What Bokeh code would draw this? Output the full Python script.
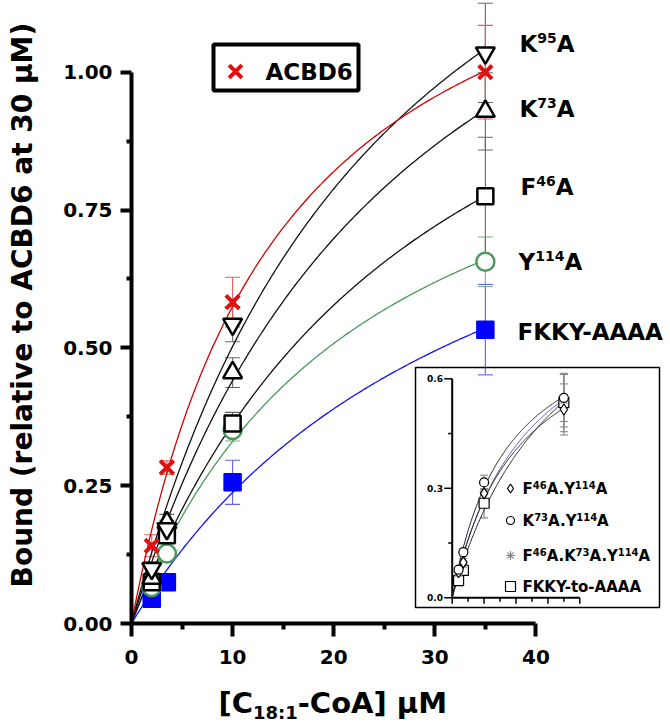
import numpy as np
from math import pi
from bokeh.plotting import figure
from bokeh.layouts import column, row
from bokeh.models import (ColumnDataSource, Whisker, TeeHead, Label, FixedTicker, Range1d)
from bokeh.embed import file_html
from bokeh.resources import INLINE

# ---------------- data ----------------
conc = [2, 3.5, 10, 35]

acbd6 = [0.141, 0.283, 0.583, 1.000]
acbd6_err = [0.020, 0.012, 0.045, 0.085]
k95a = [0.100, 0.172, 0.543, 1.035]
k95a_err = [0.012, 0.015, 0.032, 0.090]
k73a = [0.082, 0.183, 0.455, 0.929]
k73a_err = [0.010, 0.015, 0.027, 0.070]
f46a = [0.075, 0.160, 0.363, 0.775]
f46a_err = [0.010, 0.010, 0.020, 0.107]
y114a = [0.066, 0.127, 0.351, 0.656]
y114a_err = [0.010, 0.010, 0.020, 0.045]
fkky = [0.045, 0.075, 0.256, 0.533]
fkky_err = [0.006, 0.010, 0.040, 0.082]

# inset
f46_y114 = [0.070, 0.097, 0.286, 0.516]
f46_y114_err = [0.006, 0.010, 0.030, 0.070]
k73_y114 = [0.077, 0.125, 0.316, 0.548]
k73_y114_err = [0.006, 0.010, 0.020, 0.065]
f46_k73_y114 = [0.068, 0.090, 0.290, 0.540]
f46_k73_y114_err = [0.006, 0.010, 0.030, 0.072]
fkky_aaaa = [0.047, 0.075, 0.259, 0.535]
fkky_aaaa_err = [0.006, 0.010, 0.040, 0.080]

x_ticks = [0, 10, 20, 30, 40]
x_minor = [5, 15, 25, 35]
y_ticks = [0.0, 0.25, 0.5, 0.75, 1.0]
y_tick_labels = ["0.00", "0.25", "0.50", "0.75", "1.00"]
y_minor = [0.125, 0.375, 0.625, 0.875]
inset_y_ticks = [0.0, 0.3, 0.6]
inset_y_labels = ["0.0", "0.3", "0.6"]
inset_y_minor = [0.15, 0.45]
inset_x_ticks = [0, 5, 10, 15, 20, 25, 30, 35, 40]

# ---------------- layout geometry (page pixels) ----------------
YT_W = 40                     # width of the y-title strip
X0_PX, XS = 131.0, 10.11      # main x=0 pixel, px per unit
Y0_PX, YS = 623.0, 551.3      # main y=0 pixel, px per unit
FRAME_L, FRAME_R, FRAME_T = 131, 668, 0
FRAME_W = FRAME_R - FRAME_L
FRAME_H = int(Y0_PX - FRAME_T)
MAIN_H = 675
TOTAL_W = 668
XT_H = 47
IX0_PX, IXS = 451.7, 3.19     # inset
IY0_PX, IYS = 597.3, 365.0

def px2x(px):
    return (px - X0_PX) / XS

def px2y(py):
    return (Y0_PX - py) / YS

FONT = "DejaVu Sans"
W = {' ': 348, '(': 457, ')': 457, '-': 415, '.': 380, ':': 400, '[': 457, ']': 457,
     'A': 774, 'B': 762, 'C': 734, 'D': 830, 'F': 683, 'K': 775, 'M': 995, 'Y': 724,
     'a': 675, 'o': 687, 't': 478, 'µ': 721}
for d in "0123456789":
    W[d] = 696

def tw(s, size):
    return sum(W.get(c, 650) for c in s) * size / 1000.0


def rich(fig, x, y, parts, color="black"):
    """Place a run of text pieces (text, size, raise) starting at data (x, y) baseline."""
    off = 0.0
    for text, size, dy in parts:
        fig.add_layout(Label(x=x, y=y, x_offset=off, y_offset=dy + 0.34 * size, text=text,
                             text_font=FONT, text_font_style="bold",
                             text_font_size=f"{size}px", text_color=color,
                             text_align="left", text_baseline="alphabetic"))
        off += tw(text, size)


p = figure(frame_width=FRAME_W, frame_height=FRAME_H,
           x_range=Range1d(0, FRAME_W / XS), y_range=Range1d(0, FRAME_H / YS),
           output_backend="svg", toolbar_location=None,
           min_border_left=int(FRAME_L - YT_W), min_border_right=0,
           min_border_top=0, min_border_bottom=MAIN_H - FRAME_H)
p.title.visible = False
p.grid.visible = False
p.outline_line_color = None
p.background_fill_color = "white"
p.border_fill_color = "white"

p.extra_x_ranges = {"ix": Range1d((FRAME_L - IX0_PX) / IXS, (FRAME_R - IX0_PX) / IXS)}
p.extra_y_ranges = {"iy": Range1d(-(Y0_PX - IY0_PX) / IYS, (IY0_PX - FRAME_T) / IYS)}

# axes
xa = p.xaxis[0]
ya = p.yaxis[0]
xa.ticker = FixedTicker(ticks=x_ticks, minor_ticks=x_minor)
ya.ticker = FixedTicker(ticks=y_ticks, minor_ticks=y_minor)
ya.major_label_overrides = {t: l for t, l in zip(y_ticks, y_tick_labels)}
xa.bounds = (x_ticks[0], x_ticks[-1])
ya.bounds = (y_ticks[0], y_ticks[-1])
for ax in (xa, ya):
    ax.axis_line_width = 4
    ax.axis_line_color = "black"
    ax.major_tick_line_width = 4
    ax.minor_tick_line_width = 4
    ax.major_tick_line_color = "black"
    ax.minor_tick_line_color = "black"
    ax.major_tick_in = 0
    ax.minor_tick_in = 0
    ax.major_label_text_font = FONT
    ax.major_label_text_font_style = "bold"
    ax.major_label_text_font_size = "20px"
    ax.major_label_text_color = "black"
xa.major_tick_out = 13
xa.minor_tick_out = 6
xa.major_label_standoff = 13
ya.major_tick_out = 11
ya.minor_tick_out = 5
ya.major_label_standoff = 8


def fit_hyperbola(x, y):
    x = np.asarray(x, float)
    y = np.asarray(y, float)
    best = None
    for K in np.linspace(0.5, 150, 3000):
        f = x / (K + x)
        B = (f @ y) / (f @ f)
        sse = float(((B * f - y) ** 2).sum())
        if best is None or sse < best[0]:
            best = (sse, K, B)
    return best[1], best[2]


def add_series(x, y, err, marker, color, line_color, err_color, size, lw, fill,
               cap=15, line_w=1.3, xr="default", yr="default", curve_end=35):
    K, B = fit_hyperbola(x, y)
    xs = np.linspace(0, curve_end, 200)
    ys = B * xs / (K + xs)
    src = ColumnDataSource(dict(x=x, y=y,
                                upper=[a + b for a, b in zip(y, err)],
                                lower=[a - b for a, b in zip(y, err)]))
    w = Whisker(source=src, base="x", upper="upper", lower="lower",
                line_color=err_color, line_width=1.1, level="underlay",
                upper_head=TeeHead(size=cap, line_color=err_color, line_width=1.1),
                lower_head=TeeHead(size=cap, line_color=err_color, line_width=1.1),
                x_range_name=xr, y_range_name=yr)
    p.add_layout(w)
    p.line(xs, ys, line_color=line_color, line_width=line_w, x_range_name=xr, y_range_name=yr)
    return src, dict(marker=marker, size=size, line_color=color, line_width=lw,
                     fill_color=fill, x_range_name=xr, y_range_name=yr)


RED = "#e01010"
GREEN = "#4a9a5a"
BLUE = "#0000ff"
BLK = "black"

main = [
    (fkky, fkky_err, "square", BLUE, "#1414f0", "#6060f0", 17, 1.5, BLUE),
    (y114a, y114a_err, "circle", GREEN, GREEN, "#78b486", 18, 2.5, "white"),
    (f46a, f46a_err, "square", BLK, "#111111", "#666666", 16, 2.5, "white"),
    (k73a, k73a_err, "triangle", BLK, "#111111", "#666666", 19, 2.5, "white"),
    (k95a, k95a_err, "inverted_triangle", BLK, "#111111", "#666666", 19, 2.5, "white"),
    (acbd6, acbd6_err, "x", RED, "#d00000", "#e06060", 19, 4, None),
]
marks = []
for y, e, m, c, lc, ec, s, lw, fc in main:
    marks.append(add_series(conc, y, e, m, c, lc, ec, s, lw, fc))
for src, kw in marks:
    p.scatter("x", "y", source=src, **kw)

# ---------------- inset ----------------
p.quad(left=[px2x(415)], right=[px2x(659)], top=[px2y(367)], bottom=[px2y(607)],
       fill_alpha=0, line_color="black", line_width=1.5)
p.segment(x0=[0], y0=[inset_y_ticks[0]], x1=[0], y1=[inset_y_ticks[-1]],
          line_color="black", line_width=2, x_range_name="ix", y_range_name="iy")
p.segment(x0=[inset_x_ticks[0]], y0=[0], x1=[inset_x_ticks[-1]], y1=[0],
          line_color="black", line_width=2, x_range_name="ix", y_range_name="iy")
p.segment(x0=[0] * len(inset_y_ticks), y0=inset_y_ticks,
          x1=[-8 / IXS] * len(inset_y_ticks), y1=inset_y_ticks,
          line_color="black", line_width=1.5, x_range_name="ix", y_range_name="iy")
p.segment(x0=[0] * len(inset_y_minor), y0=inset_y_minor,
          x1=[-4 / IXS] * len(inset_y_minor), y1=inset_y_minor,
          line_color="black", line_width=1.5, x_range_name="ix", y_range_name="iy")
p.segment(x0=inset_x_ticks, y0=[0] * len(inset_x_ticks),
          x1=inset_x_ticks, y1=[-(6 if t % 10 == 0 else 4) / IYS for t in inset_x_ticks],
          line_color="black", line_width=1.5, x_range_name="ix", y_range_name="iy")
for t, l in zip(inset_y_ticks, inset_y_labels):
    p.add_layout(Label(x=-2.9, y=t, y_offset=0, text=l, text_align="right", text_baseline="middle",
                       text_font=FONT, text_font_style="bold", text_font_size="9px",
                       text_color="black", x_range_name="ix", y_range_name="iy"))

inset = [
    (fkky_aaaa, fkky_aaaa_err, "square", BLK, "#222222", "#888888", 10, 1.2, "white"),
    (f46_k73_y114, f46_k73_y114_err, "asterisk", "#888888", "#5050b0", "#888888", 9, 1.2, None),
    (f46_y114, f46_y114_err, "diamond", BLK, "#222222", "#888888", 11, 1.2, "white"),
    (k73_y114, k73_y114_err, "circle", BLK, "#222222", "#888888", 9, 1.2, "white"),
]
imarks = []
for y, e, m, c, lc, ec, s, lw, fc in inset:
    imarks.append(add_series(conc, y, e, m, c, lc, ec, s, lw, fc, cap=8, line_w=1.0,
                             xr="ix", yr="iy"))
for src, kw in imarks:
    p.scatter("x", "y", source=src, **kw)

# inset legend
leg_rows = [
    ("diamond", 9, BLK, [("F", 15, 0), ("46", 10, 6), ("A.Y", 15, 0), ("114", 10, 6), ("A", 15, 0)], 488),
    ("circle", 8, BLK, [("K", 15, 0), ("73", 10, 6), ("A.Y", 15, 0), ("114", 10, 6), ("A", 15, 0)], 520),
    ("asterisk", 9, "#888888", [("F", 15, 0), ("46", 10, 6), ("A.K", 15, 0), ("73", 10, 6), ("A.Y", 15, 0),
                                ("114", 10, 6), ("A", 15, 0)], 555),
    ("square", 10, BLK, [("FKKY-to-AAAA", 15, 0)], 586),
]
for m, s, c, parts, ypx in leg_rows:
    p.scatter([px2x(510)], [px2y(ypx)], marker=m, size=s, line_color=c, line_width=1.2,
              fill_color="white")
    rich(p, px2x(522), px2y(ypx + 5.5), parts)

# ---------------- main labels ----------------
rich(p, px2x(519), px2y(51), [("K", 23, 0), ("95", 14, 9), ("A", 23, 0)])
rich(p, px2x(519), px2y(116), [("K", 23, 0), ("73", 14, 9), ("A", 23, 0)])
rich(p, px2x(520), px2y(194), [("F", 23, 0), ("46", 14, 9), ("A", 23, 0)])
rich(p, px2x(518), px2y(269), [("Y", 23, 0), ("114", 14, 9), ("A", 23, 0)])
rich(p, px2x(517), px2y(339), [("FKKY-AAAA", 23, 0)])

# legend for ACBD6
p.quad(left=[px2x(213)], right=[px2x(358)], top=[px2y(44)], bottom=[px2y(90)],
       fill_color="white", line_color="black", line_width=4)
p.scatter([px2x(235)], [px2y(71)], marker="x", size=18, line_color=RED, line_width=4)
rich(p, px2x(265), px2y(79.5), [("ACBD6", 23, 0)])

# ---------------- axis titles (own strips, coordinates = page pixels) ----------------
yfig = figure(width=YT_W, height=MAIN_H, x_range=Range1d(0, YT_W), y_range=Range1d(MAIN_H, 0),
              x_axis_type=None, y_axis_type=None, min_border=0,
              output_backend="svg", toolbar_location=None)
yfig.title.visible = False
yfig.outline_line_color = None
yfig.add_layout(Label(x=22, y=330, text="Bound (relative to ACBD6 at 30 µM)",
                      angle=pi / 2, text_align="center", text_baseline="middle",
                      text_font=FONT, text_font_style="bold", text_font_size="28px",
                      text_color="black"))

xfig = figure(width=TOTAL_W, height=XT_H, x_range=Range1d(0, TOTAL_W),
              y_range=Range1d(MAIN_H + XT_H, MAIN_H),
              x_axis_type=None, y_axis_type=None, min_border=0,
              output_backend="svg", toolbar_location=None)
xfig.title.visible = False
xfig.outline_line_color = None
rich(xfig, 218, 712, [("[C", 29, 0), ("18:1", 18, -6), ("-CoA] µM", 29, 0)])

layout = column(row(yfig, p, spacing=0), xfig, spacing=0)
open("out.html", "w").write(file_html(layout, INLINE))
